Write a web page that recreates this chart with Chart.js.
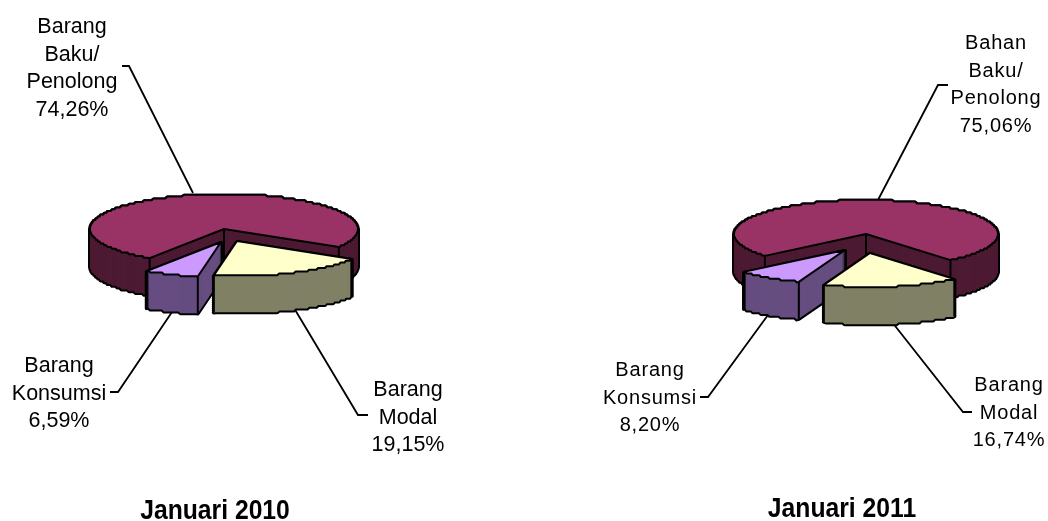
<!DOCTYPE html>
<html>
<head>
<meta charset="utf-8">
<script src="https://cdn.jsdelivr.net/npm/chart.js@4/dist/chart.umd.min.js"></script>
<style>
    html, body { margin: 0; padding: 0; background: #fff; }
    #wrap { position: relative; width: 1048px; height: 521px; overflow: hidden; }
    canvas { position: absolute; top: 0; }
</style>
</head>
<body>
<div id="wrap">
    <canvas id="pie2010" width="524" height="521" style="left:0"></canvas>
    <canvas id="pie2011" width="524" height="521" style="left:524px"></canvas>
</div>
<script>
// slice order: bahan baku, modal, konsumsi (clockwise)
const labels2010 = [['Barang', 'Baku/', 'Penolong'], ['Barang', 'Modal'], ['Barang', 'Konsumsi']];
const labels2011 = [['Bahan', 'Baku/', 'Penolong'], ['Barang', 'Modal'], ['Barang', 'Konsumsi']];
const values2010 = [74.26, 19.15, 6.59];
const values2011 = [75.06, 16.74, 8.20];
const title2010 = 'Januari 2010';
const title2011 = 'Januari 2011';

const topColors = ['#993366', '#FFFFCC', '#CC99FF'];
const sideColors = ['#4D1A33', '#808066', '#664D80'];

const layout2010 = {
    cx: 224, cy: 229, rx: 134, ry: 35, depth: 37, rotation: 213.7,
    shifts: [[0, 0], [13, 12], [-3, 13]],
    labelPos: [[72, 33], [408, 396], [59, 372]],
    font: '21.5px "Liberation Sans"', spacing: '0px',
    titlePos: [215, 519],
    leaders: [
        [[122, 66], [129, 66], [193, 193]],
        [[294, 308], [358, 415], [368, 415]],
        [[172, 312], [118, 392], [110, 392]]
    ]
};
const layout2011 = {
    cx: 866, cy: 234, rx: 132, ry: 34, depth: 37, rotation: 230,
    shifts: [[0, 0], [4, 19], [-21, 16]],
    labelPos: [[996, 49], [1009, 391], [650, 376]],
    font: '20px "Liberation Sans"', spacing: '0.8px',
    titlePos: [842, 517],
    leaders: [
        [[948, 85], [938, 85], [878, 200]],
        [[892, 322], [963, 412], [972, 412]],
        [[768, 315], [708, 397], [700, 397]]
    ]
};

// rim is stepped a little, the original was rendered that way
function slicePath(ctx, arc, lay, dx, dy) {
    const k = lay.ry / arc.outerRadius;
    const ox = lay.cx + dx, oy = lay.cy + dy;
    const steps = Math.ceil((arc.endAngle - arc.startAngle) * 60);
    ctx.beginPath();
    ctx.moveTo(ox, oy);
    for (let s = 0; s <= steps; s++) {
        const a = arc.startAngle + (arc.endAngle - arc.startAngle) * s / steps;
        let y = Math.sin(a) * arc.outerRadius * k;
        if (s > 0 && s < steps) y = Math.round(y / 1.8) * 1.8;
        ctx.lineTo(ox + Math.cos(a) * arc.outerRadius, oy + y);
    }
    ctx.closePath();
}

function drawSlice(ctx, arc, i, lay) {
    const [dx, dy] = lay.shifts[i];
    const k = lay.ry / arc.outerRadius;
    ctx.lineJoin = 'round';
    // black backing first so only the silhouette of the extrusion stays outlined
    ctx.strokeStyle = '#000';
    ctx.lineWidth = 4;
    for (let d = lay.depth; d >= 0; d -= 2) {
        slicePath(ctx, arc, lay, dx, dy + d);
        ctx.stroke();
    }
    ctx.fillStyle = sideColors[i];
    for (let d = lay.depth; d >= 0; d--) {
        slicePath(ctx, arc, lay, dx, dy + d);
        ctx.fill();
    }
    // vertical edges of the walls
    ctx.lineWidth = 2;
    const corners = [arc.startAngle, arc.endAngle].map(a => [
        lay.cx + dx + Math.cos(a) * arc.outerRadius,
        lay.cy + dy + Math.sin(a) * arc.outerRadius * k
    ]);
    if (i === 0) corners.push([lay.cx, lay.cy]);
    corners.forEach(p => {
        ctx.beginPath();
        ctx.moveTo(p[0], p[1]);
        ctx.lineTo(p[0], p[1] + lay.depth);
        ctx.stroke();
    });
    slicePath(ctx, arc, lay, dx, dy);
    ctx.fillStyle = topColors[i];
    ctx.fill();
    ctx.stroke();
}

function makePie(id, names, values, title, lay) {
    const offsetX = id === 'pie2011' ? 524 : 0;
    new Chart(document.getElementById(id), {
        type: 'pie',
        data: {
            labels: names.map(n => n.join(' ')),
            datasets: [{ data: values, backgroundColor: topColors, radius: lay.rx }]
        },
        options: {
            responsive: false,
            animation: false,
            rotation: lay.rotation,
            plugins: { legend: { display: false }, tooltip: { enabled: false }, title: { display: false } }
        },
        plugins: [{
            id: 'pie3d',
            beforeDatasetsDraw(chart) {
                const ctx = chart.ctx;
                const arcs = chart.getDatasetMeta(0).data;
                ctx.save();
                ctx.translate(-offsetX, 0);
                // leader lines sit behind the slices
                ctx.strokeStyle = '#000';
                ctx.lineWidth = 1.8;
                lay.leaders.forEach(pts => {
                    ctx.beginPath();
                    pts.forEach((p, n) => n ? ctx.lineTo(p[0], p[1]) : ctx.moveTo(p[0], p[1]));
                    ctx.stroke();
                });
                [0, 2, 1].forEach(i => drawSlice(ctx, arcs[i], i, lay));
                ctx.restore();
                return false;
            },
            afterDraw(chart) {
                const ctx = chart.ctx;
                ctx.save();
                ctx.translate(-offsetX, 0);
                ctx.fillStyle = '#000';
                ctx.textAlign = 'center';
                ctx.textBaseline = 'alphabetic';
                ctx.font = lay.font;
                ctx.letterSpacing = lay.spacing;
                names.forEach((lines, i) => {
                    const [x, y] = lay.labelPos[i];
                    const all = lines.concat(values[i].toFixed(2).replace('.', ',') + '%');
                    all.forEach((t, n) => ctx.fillText(t, x, y + n * 27.5));
                });
                ctx.letterSpacing = '0px';
                // title is tall and slightly condensed in the original
                ctx.font = 'bold 27px "Liberation Sans"';
                ctx.translate(lay.titlePos[0], lay.titlePos[1]);
                ctx.scale(0.915, 1);
                ctx.fillText(title, 0, 0);
                ctx.restore();
            }
        }]
    });
}

makePie('pie2010', labels2010, values2010, title2010, layout2010);
makePie('pie2011', labels2011, values2011, title2011, layout2011);
</script>
</body>
</html>
